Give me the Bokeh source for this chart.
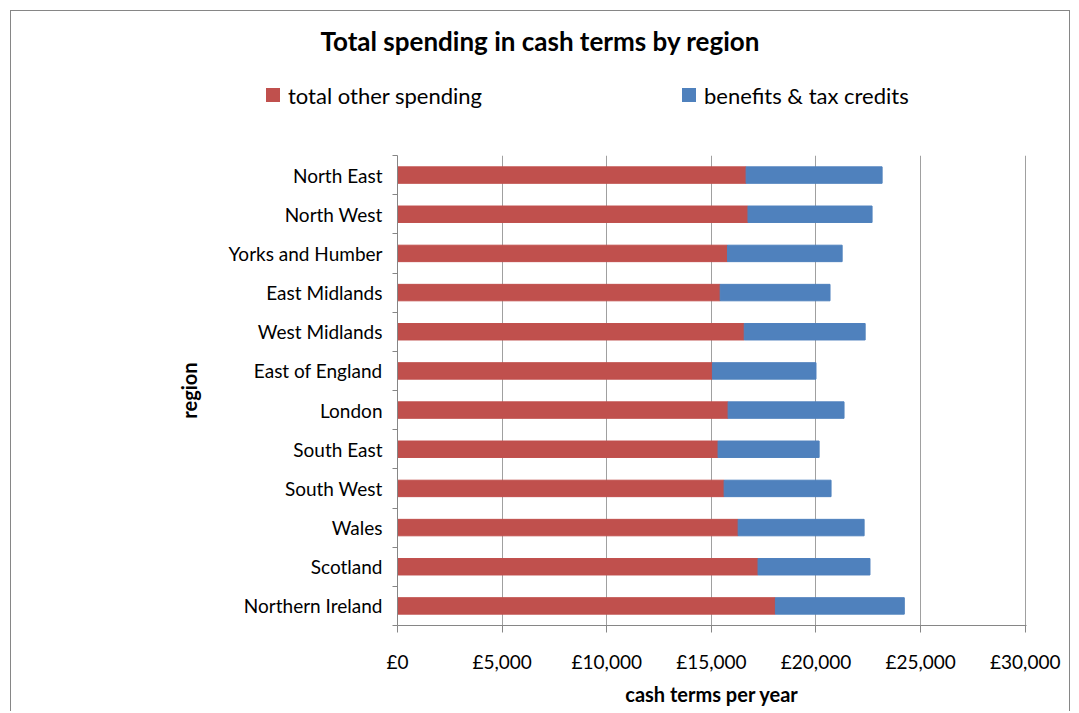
from bokeh.plotting import figure
from bokeh.models import ColumnDataSource, Range1d, FixedTicker, Div
from bokeh.layouts import column
from bokeh.embed import file_html
from bokeh.resources import INLINE

# ---- data ----
regions = ["North East", "North West", "Yorks and Humber", "East Midlands",
           "West Midlands", "East of England", "London", "South East",
           "South West", "Wales", "Scotland", "Northern Ireland"]
other_spending = [16660, 16750, 15770, 15420, 16570, 15050, 15800, 15320,
                  15610, 16280, 17230, 18060]
benefits = [6500, 5930, 5480, 5250, 5780, 4950, 5540, 4830,
            5110, 6020, 5350, 6160]
x_ticks = [0, 5000, 10000, 15000, 20000, 25000, 30000]
x_tick_labels = ["£0", "£5,000", "£10,000", "£15,000", "£20,000", "£25,000", "£30,000"]
series_names = ["total other spending", "benefits & tax credits"]
title_text = "Total spending in cash terms by region"
x_title = "cash terms per year"
y_title = "region"

RED = "#C0504D"
BLUE = "#4F81BD"
FONT = "Lato"
W = 1058
HEAD_H = 144
MAIN_H = 556

n = len(regions)
ypos = [n - 1 - i for i in range(n)]
totals = [o + b for o, b in zip(other_spending, benefits)]
src = ColumnDataSource(dict(y=ypos, other=other_spending, total=totals,
                            zero=[0] * n))

# ---------------- header: title + legend (HTML text) ----------------
colors = [RED, BLUE]
legend_x = [255, 671]
items_html = ""
for name, col, lx in zip(series_names, colors, legend_x):
    items_html += (
        f'<div style="position:absolute;left:{lx}px;top:77px;width:14px;height:14px;'
        f'background:{col};"></div>'
        f'<div style="position:absolute;left:{lx + 22}px;top:74px;font-size:22px;'
        f'line-height:22px;white-space:nowrap;">{name.replace("&", "&amp;")}</div>'
    )
head_html = (
    f'<div style="position:relative;width:{W}px;height:{HEAD_H}px;'
    f'font-family:Lato,sans-serif;color:#000;">'
    f'<div style="position:absolute;left:0;top:17px;width:{W}px;text-align:center;'
    f'font-size:26px;line-height:26px;font-weight:bold;white-space:nowrap;">{title_text}</div>'
    f'{items_html}</div>'
)
head = Div(text=head_html, width=W, height=HEAD_H,
           styles={"margin": "0", "padding": "0", "background-color": "white"})

# ---------------- main chart ----------------
p = figure(width=W, height=MAIN_H, output_backend="svg", toolbar_location=None,
           x_range=Range1d(0, 30060), y_range=Range1d(-0.5, n - 0.5),
           min_border_left=386, min_border_right=43, min_border_top=0,
           min_border_bottom=86)
p.outline_line_color = None
p.background_fill_color = "white"
p.border_fill_color = "white"

p.hbar(y="y", left="zero", right="other", height=0.42, color=RED, source=src)
p.hbar(y="y", left="other", right="total", height=0.42, color=BLUE, source=src)

xa = p.xaxis[0]
xa.ticker = FixedTicker(ticks=x_ticks)
xa.major_label_overrides = {v: s for v, s in zip(x_ticks, x_tick_labels)}
xa.axis_line_color = "#868686"
xa.major_tick_line_color = "#868686"
xa.major_tick_out = 7
xa.major_tick_in = 0
xa.minor_tick_line_color = None
xa.major_label_text_font = FONT
xa.major_label_text_font_size = "19px"
xa.major_label_text_color = "#000000"
xa.major_label_standoff = 17
xa.axis_label = x_title
xa.axis_label_text_font = FONT
xa.axis_label_text_font_size = "20px"
xa.axis_label_text_font_style = "bold"
xa.axis_label_text_color = "#000000"
xa.axis_label_standoff = 6

ya = p.yaxis[0]
ya.ticker = FixedTicker(ticks=ypos, minor_ticks=[k - 0.5 for k in range(n + 1)])
ya.major_label_overrides = {y: name for y, name in zip(ypos, regions)}
ya.axis_line_color = "#868686"
ya.major_tick_line_color = None
ya.major_tick_out = 0
ya.major_tick_in = 0
ya.minor_tick_line_color = "#868686"
ya.minor_tick_out = 5
ya.minor_tick_in = 0
ya.major_label_text_font = FONT
ya.major_label_text_font_size = "19px"
ya.major_label_text_color = "#000000"
ya.major_label_standoff = 10
ya.axis_label = y_title
ya.axis_label_text_font = FONT
ya.axis_label_text_font_size = "20px"
ya.axis_label_text_font_style = "bold"
ya.axis_label_text_color = "#000000"
ya.axis_label_standoff = 25

p.xgrid.grid_line_color = "#A0A0A0"
p.xgrid.ticker = FixedTicker(ticks=x_ticks)
p.ygrid.grid_line_color = None

layout = column(head, p, spacing=0)
layout.margin = (10, 0, 0, 10)
layout.styles = {"border-left": "1px solid #868686", "border-top": "1px solid #868686",
                 "border-right": "1px solid #868686", "background-color": "white"}

open("out.html", "w").write(file_html(layout, INLINE))
